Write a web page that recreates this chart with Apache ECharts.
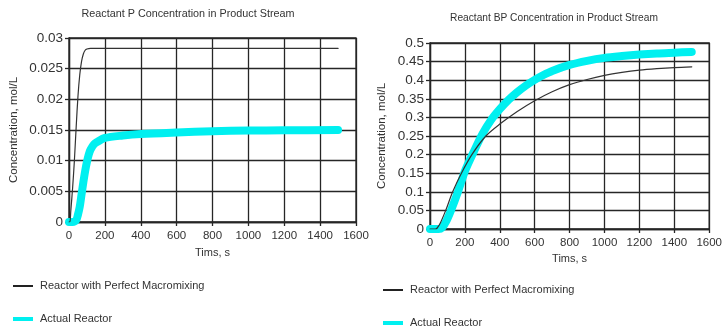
<!DOCTYPE html>
<html>
<head>
<meta charset="utf-8">
<script src="https://cdn.jsdelivr.net/npm/echarts@6/dist/echarts.min.js"></script>
<style>html,body{margin:0;padding:0;background:#fff}#c{width:725px;height:333px}</style>
</head>
<body>
<div id="c"></div>
<script>
// ---- Data ----
const seriesNames = ['Reactor with Perfect Macromixing', 'Actual Reactor'];
const xTicksMax = 1600;

// Left chart: Reactant P
const pPerfectT = [0, 5, 10, 20, 30, 40, 50, 60, 70, 80, 90, 100, 120, 160, 1500];
const pPerfectV = [0, 0, 0.0018, 0.0055, 0.01, 0.0155, 0.0205, 0.024, 0.0262, 0.0274, 0.028, 0.0282, 0.0283, 0.0283, 0.0283];
const pActualT = [0, 20, 40, 50, 60, 70, 80, 90, 100, 110, 120, 140, 160, 200, 300, 400, 600, 800, 1000, 1200, 1500];
const pActualV = [0, 0, 0.0003, 0.0012, 0.0025, 0.0045, 0.0065, 0.0083, 0.0098, 0.011, 0.0118, 0.0127, 0.0131, 0.0137, 0.0141, 0.01435, 0.0146, 0.0148, 0.0149, 0.01495, 0.015];

// Right chart: Reactant BP
const bpPerfectT = [0, 30, 40, 60, 90, 130, 180, 240, 320, 400, 500, 600, 700, 800, 900, 1000, 1100, 1200, 1300, 1400, 1500];
const bpPerfectV = [0, 0, 0.002, 0.017, 0.05, 0.1, 0.15, 0.2, 0.25, 0.282, 0.316, 0.345, 0.369, 0.388, 0.402, 0.413, 0.421, 0.427, 0.431, 0.434, 0.436];
const bpActualT = [0, 50, 70, 90, 120, 160, 200, 250, 300, 350, 400, 450, 500, 550, 600, 650, 700, 800, 900, 1000, 1100, 1200, 1300, 1400, 1500];
const bpActualV = [0, 0, 0.004, 0.018, 0.05, 0.1, 0.155, 0.207, 0.255, 0.293, 0.322, 0.347, 0.368, 0.386, 0.401, 0.414, 0.425, 0.441, 0.452, 0.46, 0.465, 0.469, 0.472, 0.474, 0.476];

const titles = ['Reactant P Concentration in Product Stream', 'Reactant BP Concentration in Product Stream'];
const xName = 'Tims, s';
const yName = 'Concentration, mol/L';

// ---- Build ----
const pair = (t, v) => t.map((x, i) => [x, v[i]]);
const txt = '#333';
const gridCol = '#262626';
const sans = "'Liberation Sans', Arial, sans-serif";

function xAxis(gi) {
  return {
    type: 'value', gridIndex: gi, min: 0, max: xTicksMax, interval: 200,
    name: xName, nameLocation: 'middle', nameGap: gi === 0 ? 25 : 23,
    nameTextStyle: { color: txt, fontSize: 11, fontFamily: sans },
    axisLine: { show: true, lineStyle: { color: gridCol, width: 1.3 } },
    axisTick: { show: true, length: 4, lineStyle: { color: gridCol, width: 1.3 } },
    axisLabel: { color: txt, fontSize: 11.5, fontFamily: sans, margin: 8,
      formatter: v => String(v) },
    splitLine: { show: true, lineStyle: { color: gridCol, width: 1.3 } }
  };
}
function yAxis(gi, max, interval, gap) {
  return {
    type: 'value', gridIndex: gi, min: 0, max: max, interval: interval,
    name: yName, nameLocation: 'middle', nameGap: gap, nameRotate: 90,
    nameTextStyle: { color: txt, fontSize: 11.5, fontFamily: sans },
    axisLine: { show: true, lineStyle: { color: gridCol, width: 1.3 } },
    axisTick: { show: true, length: 4, lineStyle: { color: gridCol, width: 1.3 } },
    axisLabel: { color: txt, fontSize: 13.5, fontFamily: sans, margin: 6,
      formatter: v => String(+v.toFixed(4)) },
    splitLine: { show: true, lineStyle: { color: gridCol, width: 1.3 } }
  };
}
function lineSeries(name, gi, data, color, width, z) {
  return {
    name: name, type: 'line', xAxisIndex: gi, yAxisIndex: gi, data: data,
    smooth: 0.3, symbol: 'none', showSymbol: false, z: z, animation: false,
    lineStyle: { color: color, width: width, cap: 'round', join: 'round' },
    itemStyle: { color: color }
  };
}
function legend(left, top) {
  return {
    orient: 'vertical', left: left, top: top, itemWidth: 20, itemHeight: 14, itemGap: 19,
    padding: 0, selectedMode: false,
    textStyle: { color: txt, fontSize: 11, fontFamily: sans, padding: [0, 0, 0, 2] },
    data: [
      { name: seriesNames[0], icon: 'path://M0,0M20,14M0,6L20,6L20,8L0,8Z', itemStyle: { color: '#222' } },
      { name: seriesNames[1], icon: 'path://M0,0M20,14M0,5L20,5L20,9L0,9Z', itemStyle: { color: '#00F0F0' } }
    ]
  };
}

const option = {
  backgroundColor: '#fff',
  animation: false,
  title: [
    { text: titles[0], left: 183, top: 4, textAlign: 'center',
      textStyle: { color: txt, fontSize: 10.8, fontWeight: 'normal', fontFamily: sans } },
    { text: titles[1], left: 549, top: 8, textAlign: 'center',
      textStyle: { color: txt, fontSize: 10.2, fontWeight: 'normal', fontFamily: sans } }
  ],
  grid: [
    { left: 69, top: 38, width: 287, height: 184, show: true, borderColor: gridCol, borderWidth: 1.3, backgroundColor: 'transparent' },
    { left: 430, top: 43, width: 287, height: 186, show: true, borderColor: gridCol, borderWidth: 1.3, backgroundColor: 'transparent' }
  ],
  xAxis: [xAxis(0), xAxis(1)],
  yAxis: [yAxis(0, 0.03, 0.005, 49), yAxis(1, 0.5, 0.05, 42)],
  legend: [legend(13, 279), legend(383, 283)],
  series: [
    lineSeries(seriesNames[1], 0, pair(pActualT, pActualV), '#00F0F0', 8, 2),
    lineSeries(seriesNames[0], 0, pair(pPerfectT, pPerfectV), '#333', 1.2, 3),
    lineSeries(seriesNames[1], 1, pair(bpActualT, bpActualV), '#00F0F0', 8, 2),
    lineSeries(seriesNames[0], 1, pair(bpPerfectT, bpPerfectV), '#333', 1.2, 3)
  ]
};
const chart = echarts.init(document.getElementById('c'), null, { renderer: 'canvas' });
chart.setOption(option);
</script>
</body>
</html>
